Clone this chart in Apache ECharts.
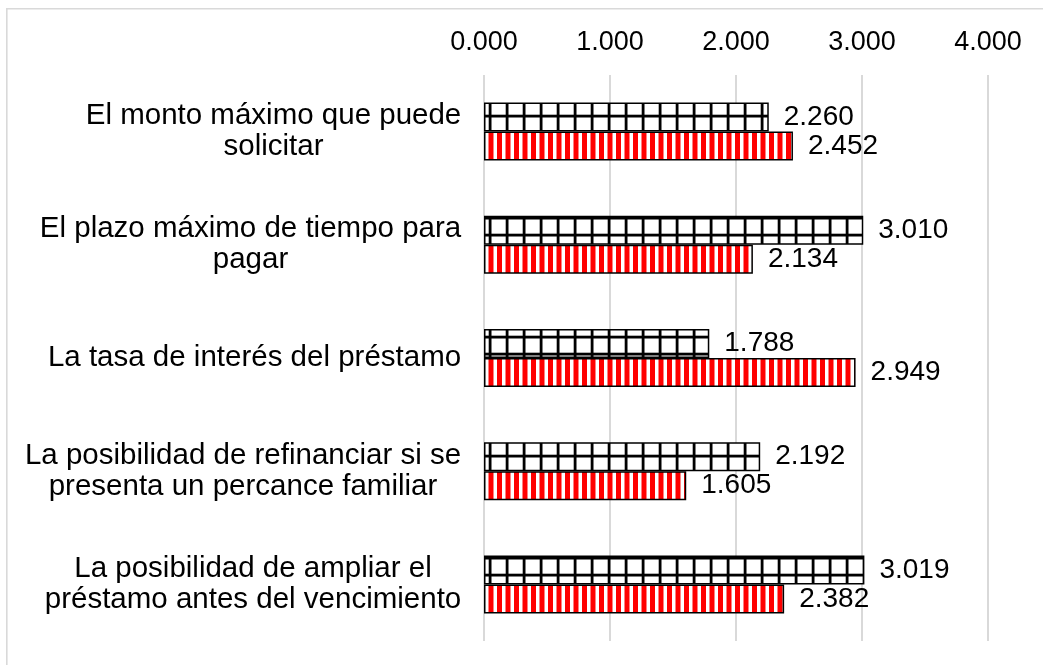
<!DOCTYPE html>
<html>
<head>
<meta charset="utf-8">
<script src="https://cdn.jsdelivr.net/npm/echarts@6/dist/echarts.min.js"></script>
<style>
  html, body { margin: 0; padding: 0; background: #fff; }
  #chart { position: absolute; left: 0; top: 0; width: 1043px; height: 665px; }
</style>
</head>
<body>
<div id="chart"></div>
<script>
// categories (top to bottom), one entry per line of the label
const categories = [
  ['El monto máximo que puede', 'solicitar'],
  ['El plazo máximo de tiempo para', 'pagar'],
  ['La tasa de interés del préstamo'],
  ['La posibilidad de refinanciar si se', 'presenta un percance familiar'],
  ['La posibilidad de ampliar el', 'préstamo antes del vencimiento']
];
const seriesGrid = [2.260, 3.010, 1.788, 2.192, 3.019];
const seriesRed = [2.452, 2.134, 2.949, 1.605, 2.382];
const tickMax = 4;

const FONT = '"Liberation Sans", Arial, sans-serif';
const CAT_SIZE = 29.5;

// small tiles for the hatch fills (anchored to the canvas origin)
function gridTile() {
  const c = document.createElement('canvas');
  c.width = 17; c.height = 17;
  const ctx = c.getContext('2d');
  ctx.fillStyle = '#fff';
  ctx.fillRect(0, 0, 17, 17);
  ctx.fillStyle = '#000';
  ctx.fillRect(12.7, 0, 2.8, 17);
  ctx.fillRect(0, 12.7, 17, 2.8);
  return c;
}
function stripeTile() {
  const c = document.createElement('canvas');
  c.width = 17; c.height = 4;
  const ctx = c.getContext('2d');
  ctx.fillStyle = '#fff';
  ctx.fillRect(0, 0, 17, 4);
  ctx.fillStyle = '#ff0000';
  ctx.fillRect(12.5, 0, 4.5, 4);
  ctx.fillRect(0, 0, 0.5, 4);
  ctx.fillRect(4, 0, 5, 4);
  return c;
}

// width of the widest line of each label, so lines can be centred in the block
const mctx = document.createElement('canvas').getContext('2d');
mctx.font = CAT_SIZE + 'px ' + FONT;
const rich = {};
categories.forEach((lines, i) => {
  const w = Math.max(...lines.map(l => mctx.measureText(l).width));
  rich['c' + i] = {width: Math.ceil(w) + 1, align: 'center', fontSize: CAT_SIZE, lineHeight: 31, fontFamily: FONT, color: '#000'};
});

const chart = echarts.init(document.getElementById('chart'), null, {renderer: 'canvas'});

const labelOpt = {
  show: true,
  position: 'right',
  distance: 15,
  fontSize: 28,
  fontFamily: FONT,
  color: '#000',
  formatter: p => p.value.toFixed(3)
};

const option = {
  animation: false,
  backgroundColor: '#fff',
  textStyle: {fontFamily: FONT},
  grid: {left: 484, right: 55, top: 75, bottom: 24},
  xAxis: {
    type: 'value',
    position: 'top',
    min: 0,
    max: tickMax,
    interval: 1,
    axisLine: {show: false},
    axisTick: {show: false},
    axisLabel: {
      fontSize: 27,
      color: '#000',
      margin: 19,
      formatter: v => v.toFixed(3)
    },
    splitLine: {lineStyle: {color: '#d9d9d9', width: 2}}
  },
  yAxis: {
    type: 'category',
    inverse: true,
    data: categories.map(l => l.join('\n')),
    axisLine: {show: false},
    axisTick: {show: false},
    axisLabel: {
      margin: 22,
      align: 'right',
      formatter: (v, idx) => v.split('\n').map(l => '{c' + idx + '|' + l + '}').join('\n'),
      rich: rich
    }
  },
  series: [
    {
      name: 'Serie 1',
      type: 'bar',
      data: seriesGrid,
      barWidth: 29,
      barGap: '0%',
      itemStyle: {
        color: {image: gridTile(), repeat: 'repeat'},
        borderColor: '#000',
        borderWidth: 1.5
      },
      label: labelOpt
    },
    {
      name: 'Serie 2',
      type: 'bar',
      data: seriesRed,
      barWidth: 29,
      barGap: '0%',
      itemStyle: {
        color: {image: stripeTile(), repeat: 'repeat'},
        borderColor: '#000',
        borderWidth: 1.5
      },
      label: labelOpt
    }
  ],
  graphic: [
    {
      type: 'rect',
      silent: true,
      shape: {x: 6.8, y: 8.8, width: 1200, height: 800},
      style: {fill: null, stroke: '#d9d9d9', lineWidth: 1.6}
    }
  ]
};

chart.setOption(option);
</script>
</body>
</html>
